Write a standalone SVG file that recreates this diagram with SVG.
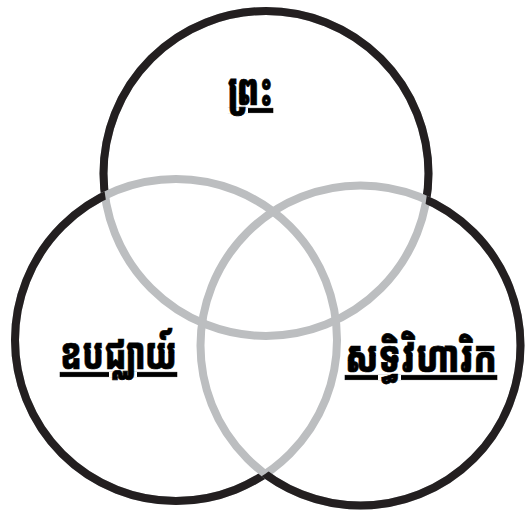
<svg xmlns="http://www.w3.org/2000/svg" width="525" height="512" viewBox="0 0 525 512">
<style>
.g{fill:none;stroke:#bcbec0;stroke-width:8}
.b{fill:none;stroke:#231f20;stroke-width:8}
.t{font-family:"Noto Sans Khmer","Khmer OS","Khmer OS System","Noto Sans","DejaVu Sans",sans-serif;font-weight:900;fill:#000;stroke:#000;stroke-width:0.6;text-decoration:underline}
</style>
<defs>
<mask id="mTop" maskUnits="userSpaceOnUse" x="0" y="0" width="525" height="512">
<rect width="525" height="512" fill="#fff"/>
<circle cx="176" cy="340" r="161" fill="#000"/>
<circle cx="360.5" cy="345.5" r="160" fill="#000"/>
</mask>
<mask id="mLeft" maskUnits="userSpaceOnUse" x="0" y="0" width="525" height="512">
<rect width="525" height="512" fill="#fff"/>
<circle cx="266" cy="173.5" r="162.5" fill="#000"/>
<circle cx="360.5" cy="345.5" r="160" fill="#000"/>
</mask>
<mask id="mRight" maskUnits="userSpaceOnUse" x="0" y="0" width="525" height="512">
<rect width="525" height="512" fill="#fff"/>
<circle cx="266" cy="173.5" r="162.5" fill="#000"/>
<circle cx="176" cy="340" r="161" fill="#000"/>
</mask>
</defs>
<g id="circles">
<g id="top-circle">
<circle class="g" cx="266" cy="173.5" r="162.5"/>
<circle class="b" cx="266" cy="173.5" r="162.5" mask="url(#mTop)"/>
</g>
<g id="left-circle">
<circle class="g" cx="176" cy="340" r="161"/>
<circle class="b" cx="176" cy="340" r="161" mask="url(#mLeft)"/>
</g>
<g id="right-circle">
<circle class="g" cx="360.5" cy="345.5" r="160"/>
<circle class="b" cx="360.5" cy="345.5" r="160" mask="url(#mRight)"/>
</g>
</g>
<g id="labels">
<text class="t" transform="translate(228,105) scale(1,1.2)" font-size="37" textLength="45" lengthAdjust="spacingAndGlyphs">ព្រះ</text>
<text class="t" transform="translate(60,369) scale(1,1.2)" font-size="37" textLength="117" lengthAdjust="spacingAndGlyphs">ឧបជ្ឈាយ៍</text>
<text class="t" transform="translate(345,372) scale(1,1.2)" font-size="37" textLength="152" lengthAdjust="spacingAndGlyphs">សទ្ធិវិហារិក</text>
</g>
</svg>
